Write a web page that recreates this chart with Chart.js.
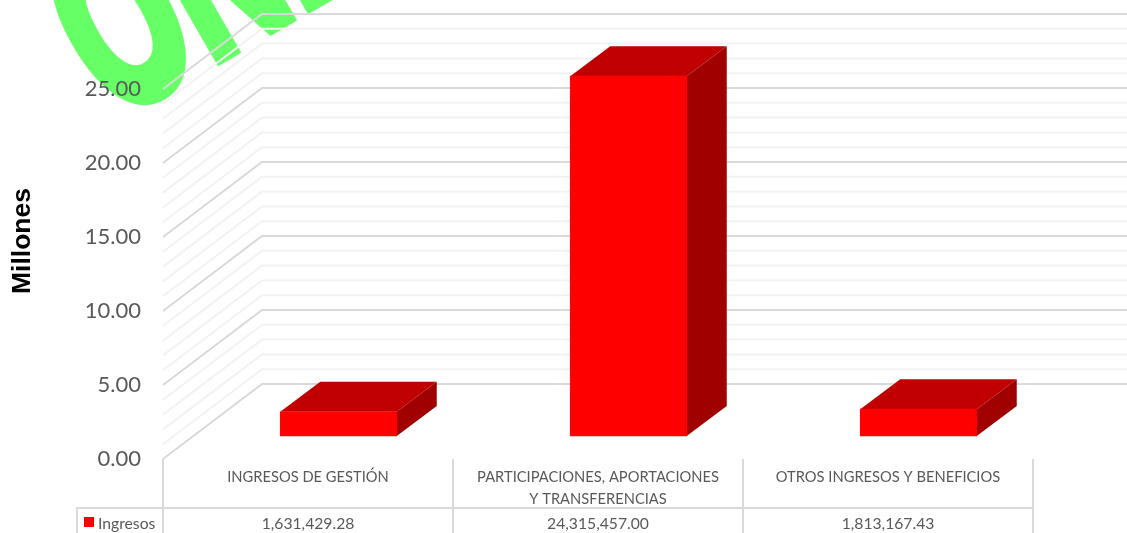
<!DOCTYPE html>
<html>
<head>
<meta charset="utf-8">
<title>Ingresos</title>
<script src="https://cdn.jsdelivr.net/npm/chart.js@4"></script>
<style>
    html, body { margin: 0; padding: 0; background: #fff; overflow: hidden; }
    #wrap { width: 1127px; height: 533px; position: relative; }
</style>
</head>
<body>
<div id="wrap"><canvas id="ingresosChart"></canvas></div>
<script>
// Chart data
const categories = [
    'INGRESOS DE GESTIÓN',
    ['PARTICIPACIONES, APORTACIONES', 'Y TRANSFERENCIAS'],
    'OTROS INGRESOS Y BENEFICIOS'
];
const seriesName = 'Ingresos';
const ingresos = [1631429.28, 24315457.00, 1813167.43];
const axisTitle = 'Millones';
const watermark = 'ONE';

// 3D look of the walls and bars (offsets in px)
const wallDepth = { x: 99, y: -75 };
const barDepth = { x: 40, y: -30 };
const barShift = { x: 30.5, y: -23 };
const tableRowY = 508;
const tableLeft = 77;
const textFont = 'Lato, Carlito, sans-serif';

// Watermark sits under everything else
const watermarkPlugin = {
    id: 'watermark',
    beforeDraw(chart) {
        const ctx = chart.ctx;
        ctx.save();
        ctx.translate(113, 118);
        ctx.rotate(-30 * Math.PI / 180);
        ctx.scale(1, 1.7);
        ctx.font = 'bold 140px "Liberation Sans", sans-serif';
        ctx.letterSpacing = '3px';
        ctx.fillStyle = '#66FF66';
        ctx.strokeStyle = '#66FF66';
        ctx.lineWidth = 9;
        ctx.lineJoin = 'miter';
        ctx.fillText(watermark, 0, 0);
        ctx.strokeText(watermark, 0, 0);
        ctx.restore();
    }
};

// Side wall and back wall gridlines, plus the data table under the plot
const wallsPlugin = {
    id: 'walls',
    beforeDatasetsDraw(chart) {
        const ctx = chart.ctx;
        const y = chart.scales.y;
        const x = chart.scales.x;
        const area = chart.chartArea;

        ctx.save();
        ctx.lineWidth = 2;
        const sorted = y.ticks.slice().sort((a, b) => (a.value % 5e6 === 0) - (b.value % 5e6 === 0));
        sorted.forEach(tick => {
            const py = y.getPixelForValue(tick.value);
            ctx.strokeStyle = tick.value % 5e6 === 0 ? '#D9D9D9' : '#F2F2F2';
            ctx.beginPath();
            ctx.moveTo(area.left, py);
            ctx.lineTo(area.left + wallDepth.x, py + wallDepth.y);
            ctx.lineTo(area.right + wallDepth.x, py + wallDepth.y);
            ctx.stroke();
        });

        // table grid
        ctx.strokeStyle = '#D9D9D9';
        const band = (area.right - area.left) / categories.length;
        for (let i = 0; i <= categories.length; i++) {
            ctx.beginPath();
            ctx.moveTo(area.left + band * i, area.bottom);
            ctx.lineTo(area.left + band * i, chart.height);
            ctx.stroke();
        }
        ctx.beginPath();
        ctx.moveTo(tableLeft, chart.height);
        ctx.lineTo(tableLeft, tableRowY);
        ctx.lineTo(area.right, tableRowY);
        ctx.stroke();

        // table row
        ctx.font = '15.7px ' + textFont;
        ctx.fillStyle = '#595959';
        ctx.textBaseline = 'middle';
        ctx.textAlign = 'center';
        ingresos.forEach((v, i) => {
            const text = v.toLocaleString('en-US', { minimumFractionDigits: 2, maximumFractionDigits: 2 });
            ctx.fillText(text, x.getPixelForValue(i), tableRowY + 16);
        });
        ctx.textAlign = 'left';
        ctx.fillText(seriesName, 98, tableRowY + 16);
        ctx.fillStyle = '#FF0000';
        ctx.fillRect(84, tableRowY + 9, 10, 10);

        // axis title
        ctx.translate(23, 241);
        ctx.rotate(-Math.PI / 2);
        ctx.font = 'bold 26.5px "Liberation Sans", sans-serif';
        ctx.fillStyle = '#000';
        ctx.textAlign = 'center';
        ctx.fillText(axisTitle, 0, 0);
        ctx.restore();

        // bars are pushed into the depth of the floor, top and side faces first
        ctx.save();
        ctx.translate(barShift.x, barShift.y);
        chart.getDatasetMeta(0).data.forEach(bar => {
            const right = bar.x + bar.width / 2;
            const left = bar.x - bar.width / 2;

            ctx.fillStyle = '#C00000';
            ctx.beginPath();
            ctx.moveTo(left, bar.y);
            ctx.lineTo(left + barDepth.x, bar.y + barDepth.y);
            ctx.lineTo(right + barDepth.x, bar.y + barDepth.y);
            ctx.lineTo(right, bar.y);
            ctx.closePath();
            ctx.fill();

            ctx.fillStyle = '#A00000';
            ctx.beginPath();
            ctx.moveTo(right, bar.y);
            ctx.lineTo(right + barDepth.x, bar.y + barDepth.y);
            ctx.lineTo(right + barDepth.x, bar.base + barDepth.y);
            ctx.lineTo(right, bar.base);
            ctx.closePath();
            ctx.fill();
        });
    },
    afterDatasetsDraw(chart) {
        chart.ctx.restore();
    }
};

new Chart(document.getElementById('ingresosChart'), {
    type: 'bar',
    data: {
        labels: categories,
        datasets: [{
            label: seriesName,
            data: ingresos,
            backgroundColor: '#FF0000',
            barThickness: 116.5,
            clip: false
        }]
    },
    options: {
        responsive: true,
        maintainAspectRatio: false,
        animation: false,
        layout: { padding: { top: 89, right: 94, bottom: 0, left: 0 } },
        plugins: { legend: { display: false }, tooltip: { enabled: false } },
        scales: {
            x: {
                afterFit(scale) { scale.height = 74; },
                grid: { display: false, drawTicks: false },
                border: { display: false },
                ticks: {
                    color: '#595959',
                    maxRotation: 0,
                    autoSkip: false,
                    padding: 8,
                    font: { family: textFont, size: 14.7, lineHeight: 1.45 }
                }
            },
            y: {
                min: 0,
                max: 25000000,
                afterFit(scale) { scale.width = 163; },
                grid: { display: false, drawTicks: false },
                border: { display: false },
                ticks: {
                    stepSize: 1000000,
                    autoSkip: false,
                    color: '#595959',
                    padding: 22,
                    font: { family: textFont, size: 22 },
                    callback: value => value % 5000000 === 0 ? (value / 1000000).toFixed(2) : ''
                }
            }
        }
    },
    plugins: [watermarkPlugin, wallsPlugin]
});
</script>
</body>
</html>
